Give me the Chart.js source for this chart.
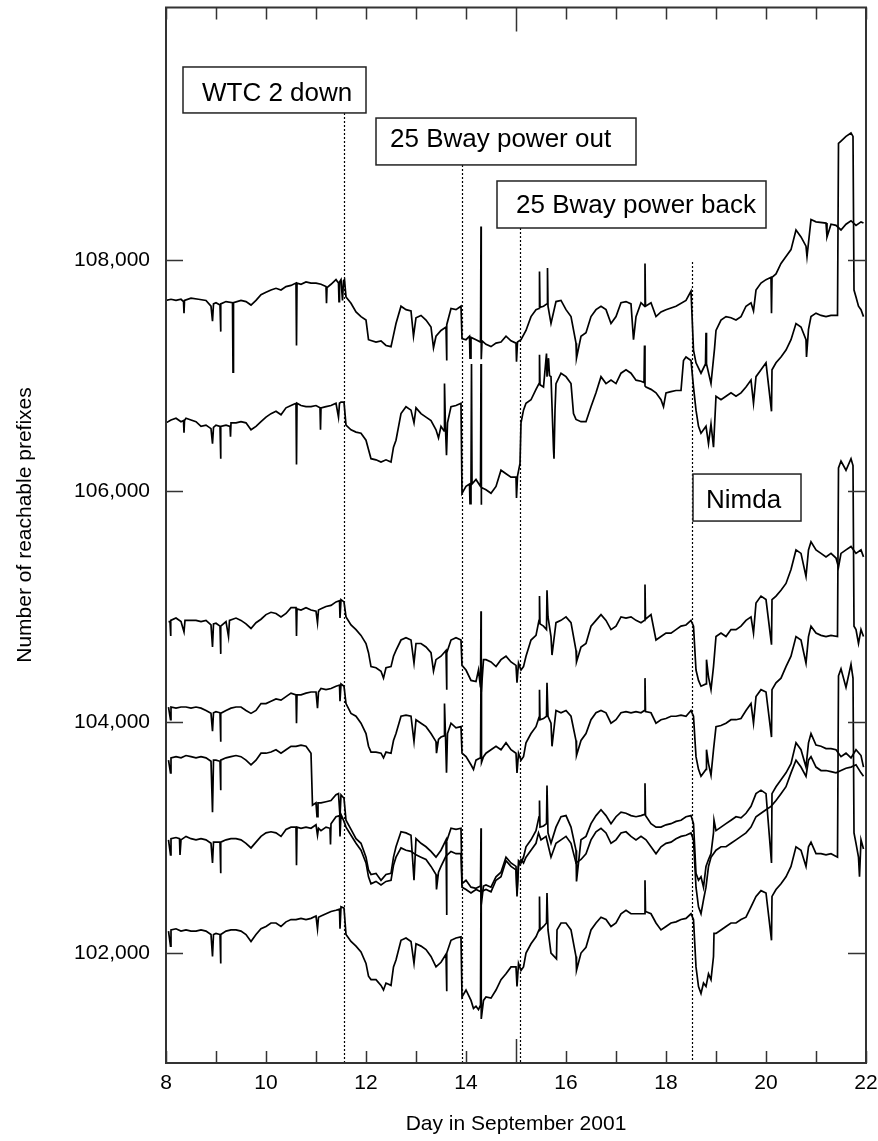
<!DOCTYPE html>
<html>
<head>
<meta charset="utf-8">
<script src="https://cdn.jsdelivr.net/npm/chart.js@4.4.1/dist/chart.umd.min.js"></script>
<style>
  html, body { margin: 0; padding: 0; background: #fff; }
  #wrap { width: 878px; height: 1141px; }
</style>
</head>
<body>
<div id="wrap"><canvas id="prefixChart" width="878" height="1141"></canvas></div>
<script>
// ── data: [day in Sept 2001, reachable prefixes] ──
const peer1 = [[8.00,107650],[8.10,107660],[8.20,107650],[8.30,107660],[8.35,107640],[8.36,107540],[8.37,107650],[8.50,107670],[8.65,107660],[8.80,107650],[8.90,107600],[8.93,107470],[8.95,107620],[9.00,107630],[9.08,107610],[9.09,107380],[9.10,107620],[9.20,107640],[9.33,107630],[9.34,107030],[9.35,107630],[9.50,107650],[9.60,107640],[9.70,107610],[9.80,107650],[9.90,107700],[10.00,107720],[10.10,107740],[10.20,107755],[10.30,107740],[10.40,107770],[10.50,107780],[10.60,107800],[10.61,107260],[10.62,107800],[10.70,107790],[10.80,107810],[10.90,107800],[11.00,107800],[11.10,107790],[11.20,107770],[11.21,107625],[11.22,107760],[11.30,107790],[11.40,107830],[11.45,107800],[11.46,107640],[11.47,107810],[11.50,107830],[11.53,107650],[11.55,107820],[11.57,107830],[11.60,107680],[11.70,107625],[11.80,107550],[11.90,107510],[12.00,107480],[12.05,107310],[12.20,107290],[12.30,107300],[12.40,107260],[12.50,107250],[12.55,107350],[12.60,107450],[12.70,107600],[12.80,107570],[12.90,107560],[12.95,107340],[13.00,107500],[13.10,107520],[13.20,107480],[13.30,107420],[13.35,107240],[13.40,107340],[13.50,107390],[13.60,107420],[13.61,107130],[13.62,107440],[13.70,107580],[13.80,107570],[13.90,107600],[13.92,107320],[14.00,107310],[14.07,107340],[14.08,107150],[14.10,107330],[14.20,107310],[14.29,107290],[14.30,108290],[14.305,107140],[14.32,107300],[14.40,107270],[14.50,107250],[14.60,107280],[14.70,107290],[14.80,107340],[14.90,107300],[15.00,107280],[15.01,107120],[15.03,107290],[15.10,107310],[15.20,107390],[15.30,107510],[15.40,107570],[15.46,107580],[15.47,107900],[15.48,107590],[15.55,107600],[15.62,107620],[15.63,107930],[15.64,107600],[15.70,107450],[15.80,107640],[15.90,107650],[16.00,107570],[16.10,107510],[16.20,107280],[16.21,107150],[16.30,107340],[16.40,107370],[16.50,107510],[16.60,107570],[16.70,107600],[16.80,107570],[16.90,107450],[17.00,107510],[17.10,107630],[17.20,107640],[17.30,107620],[17.35,107310],[17.40,107510],[17.50,107630],[17.57,107600],[17.58,107970],[17.59,107600],[17.70,107630],[17.80,107510],[17.90,107550],[18.00,107570],[18.20,107600],[18.40,107650],[18.50,107730],[18.55,107220],[18.60,107110],[18.70,107020],[18.79,107100],[18.80,107370],[18.81,107100],[18.90,106930],[18.97,107230],[19.00,107390],[19.10,107480],[19.20,107510],[19.30,107500],[19.40,107480],[19.50,107510],[19.60,107600],[19.70,107630],[19.75,107560],[19.80,107740],[19.90,107800],[20.00,107830],[20.10,107850],[20.11,107540],[20.12,107850],[20.20,107880],[20.30,107970],[20.40,108030],[20.50,108090],[20.60,108260],[20.70,108200],[20.80,108120],[20.82,108030],[20.90,108350],[21.00,108330],[21.20,108320],[21.22,108200],[21.30,108310],[21.40,108300],[21.50,108260],[21.60,108310],[21.70,108340],[21.80,108300],[21.90,108330],[21.95,108320]];

const peer2 = [[8.00,106590],[8.10,106615],[8.20,106630],[8.30,106600],[8.35,106610],[8.36,106505],[8.37,106610],[8.40,106630],[8.50,106615],[8.60,106600],[8.70,106560],[8.80,106570],[8.90,106540],[8.93,106410],[8.95,106550],[9.00,106570],[9.08,106560],[9.09,106280],[9.10,106560],[9.20,106570],[9.28,106560],[9.29,106470],[9.30,106590],[9.40,106590],[9.50,106600],[9.60,106590],[9.70,106530],[9.80,106560],[9.90,106600],[10.00,106640],[10.10,106670],[10.20,106690],[10.30,106660],[10.40,106720],[10.50,106740],[10.60,106760],[10.61,106230],[10.62,106760],[10.70,106740],[10.80,106730],[10.90,106730],[11.00,106740],[11.08,106720],[11.09,106530],[11.10,106720],[11.20,106730],[11.30,106740],[11.40,106760],[11.45,106640],[11.47,106760],[11.50,106770],[11.56,106770],[11.60,106570],[11.70,106530],[11.80,106510],[11.90,106500],[12.00,106440],[12.05,106360],[12.10,106280],[12.20,106270],[12.30,106250],[12.40,106270],[12.50,106250],[12.55,106380],[12.60,106440],[12.70,106670],[12.80,106730],[12.90,106700],[12.96,106590],[13.00,106720],[13.10,106670],[13.20,106640],[13.30,106610],[13.40,106530],[13.45,106460],[13.50,106560],[13.56,106520],[13.57,106930],[13.59,106540],[13.61,106310],[13.63,106590],[13.70,106730],[13.80,106740],[13.90,106760],[13.92,105980],[14.00,106040],[14.07,106060],[14.08,105890],[14.10,106050],[14.11,107100],[14.12,106060],[14.20,106100],[14.29,106040],[14.30,107100],[14.305,105880],[14.31,106030],[14.40,106010],[14.50,105980],[14.60,106040],[14.70,106180],[14.80,106150],[14.90,106120],[15.00,106120],[15.01,105940],[15.03,106130],[15.08,106240],[15.10,106590],[15.15,106700],[15.20,106760],[15.30,106790],[15.40,106880],[15.46,106930],[15.47,107180],[15.48,106920],[15.55,106900],[15.61,107190],[15.62,106990],[15.65,107150],[15.67,107000],[15.70,106990],[15.75,106360],[15.76,106280],[15.78,106700],[15.80,106930],[15.90,107020],[16.00,106990],[16.10,106930],[16.15,106670],[16.20,106620],[16.30,106600],[16.40,106600],[16.50,106730],[16.60,106850],[16.70,106990],[16.80,106930],[16.90,106960],[17.00,106930],[17.10,107020],[17.20,107050],[17.30,107020],[17.40,106960],[17.50,106950],[17.56,106940],[17.57,107260],[17.58,106910],[17.60,106900],[17.70,106880],[17.80,106850],[17.90,106790],[17.95,106730],[18.00,106850],[18.10,106860],[18.20,106870],[18.30,106870],[18.35,107130],[18.40,107160],[18.50,107130],[18.55,106900],[18.60,106700],[18.65,106560],[18.70,106500],[18.80,106560],[18.85,106410],[18.90,106580],[18.95,106380],[19.00,106820],[19.10,106790],[19.20,106820],[19.30,106850],[19.40,106820],[19.50,106850],[19.60,106900],[19.70,106960],[19.75,106760],[19.80,106990],[19.90,107050],[20.00,107110],[20.11,106690],[20.12,107050],[20.20,107110],[20.30,107160],[20.40,107220],[20.50,107310],[20.60,107450],[20.70,107420],[20.80,107310],[20.81,107160],[20.85,107400],[20.90,107510],[21.00,107540],[21.10,107520],[21.20,107510],[21.30,107520],[21.43,107520],[21.45,109010],[21.50,109030],[21.60,109070],[21.70,109100],[21.74,109070],[21.76,107740],[21.80,107680],[21.85,107600],[21.90,107570],[21.95,107510]];

const peer3 = [[8.05,104870],[8.08,104870],[8.09,104745],[8.10,104880],[8.20,104900],[8.30,104870],[8.36,104780],[8.38,104880],[8.50,104880],[8.60,104880],[8.70,104870],[8.80,104880],[8.90,104840],[8.93,104650],[8.95,104850],[9.00,104855],[9.08,104830],[9.09,104590],[9.10,104830],[9.20,104870],[9.25,104740],[9.27,104880],[9.40,104900],[9.50,104880],[9.60,104850],[9.70,104810],[9.80,104860],[9.90,104890],[10.00,104930],[10.10,104950],[10.20,104940],[10.30,104910],[10.40,104940],[10.50,104990],[10.60,104990],[10.61,104745],[10.62,104980],[10.70,104970],[10.80,104990],[10.90,104970],[11.00,104960],[11.03,104860],[11.05,104970],[11.10,104980],[11.20,105000],[11.30,105010],[11.40,105040],[11.47,105050],[11.48,104900],[11.50,105060],[11.56,105040],[11.60,104910],[11.70,104840],[11.80,104800],[11.90,104750],[12.00,104680],[12.05,104600],[12.10,104480],[12.20,104470],[12.30,104440],[12.35,104380],[12.40,104470],[12.50,104480],[12.55,104570],[12.60,104620],[12.70,104710],[12.80,104730],[12.90,104710],[12.96,104510],[13.00,104680],[13.10,104680],[13.20,104650],[13.30,104600],[13.35,104440],[13.40,104540],[13.50,104570],[13.60,104620],[13.61,104280],[13.62,104600],[13.70,104710],[13.80,104730],[13.90,104710],[13.92,104490],[14.00,104450],[14.10,104360],[14.20,104350],[14.25,104450],[14.29,104300],[14.30,104960],[14.305,104260],[14.35,104540],[14.40,104540],[14.50,104520],[14.60,104480],[14.70,104540],[14.80,104570],[14.90,104520],[15.00,104490],[15.02,104340],[15.05,104510],[15.10,104450],[15.15,104480],[15.20,104570],[15.30,104710],[15.40,104750],[15.46,104880],[15.47,105090],[15.48,104850],[15.55,104830],[15.61,104800],[15.62,105140],[15.64,104910],[15.70,104740],[15.72,104580],[15.80,104860],[15.90,104880],[16.00,104910],[16.10,104860],[16.20,104620],[16.21,104520],[16.30,104650],[16.40,104680],[16.50,104830],[16.60,104880],[16.70,104930],[16.80,104880],[16.90,104800],[17.00,104830],[17.10,104910],[17.20,104900],[17.30,104910],[17.40,104880],[17.50,104860],[17.57,104880],[17.58,105190],[17.59,104890],[17.70,104930],[17.80,104710],[17.90,104740],[18.00,104770],[18.10,104770],[18.20,104800],[18.30,104830],[18.40,104840],[18.50,104880],[18.55,104830],[18.60,104450],[18.65,104360],[18.70,104310],[18.80,104330],[18.81,104540],[18.85,104390],[18.90,104280],[18.95,104480],[19.00,104740],[19.10,104770],[19.20,104740],[19.30,104800],[19.40,104800],[19.50,104830],[19.60,104880],[19.70,104910],[19.75,104770],[19.80,105030],[19.90,105090],[20.00,105060],[20.11,104670],[20.12,105060],[20.20,105090],[20.30,105140],[20.40,105200],[20.50,105320],[20.60,105490],[20.70,105460],[20.80,105260],[20.85,105490],[20.90,105560],[21.00,105490],[21.10,105460],[21.20,105430],[21.30,105460],[21.40,105420],[21.45,105340],[21.50,105460],[21.60,105490],[21.70,105520],[21.80,105460],[21.90,105490],[21.95,105430]];

const peer4 = [[8.05,104130],[8.09,104020],[8.10,104130],[8.20,104120],[8.30,104130],[8.40,104130],[8.50,104120],[8.60,104130],[8.70,104120],[8.80,104100],[8.90,104075],[8.93,103920],[8.95,104080],[9.00,104090],[9.08,104080],[9.09,103830],[9.10,104075],[9.20,104100],[9.30,104120],[9.40,104130],[9.50,104130],[9.60,104100],[9.70,104075],[9.80,104100],[9.90,104160],[10.00,104160],[10.10,104180],[10.20,104200],[10.30,104190],[10.40,104220],[10.50,104250],[10.60,104235],[10.61,103990],[10.62,104235],[10.70,104235],[10.80,104250],[10.90,104260],[11.00,104260],[11.03,104120],[11.05,104260],[11.10,104290],[11.20,104280],[11.30,104290],[11.40,104310],[11.47,104320],[11.48,104180],[11.50,104330],[11.56,104310],[11.60,104160],[11.70,104075],[11.80,104050],[11.90,103990],[12.00,103900],[12.05,103790],[12.10,103740],[12.20,103740],[12.30,103730],[12.35,103690],[12.40,103740],[12.50,103730],[12.55,103840],[12.60,103900],[12.70,104050],[12.80,104060],[12.90,104050],[12.96,103830],[13.00,104020],[13.10,103990],[13.20,103960],[13.30,103900],[13.40,103830],[13.41,103730],[13.45,103850],[13.50,103870],[13.56,103880],[13.57,104160],[13.59,103880],[13.61,103560],[13.63,103900],[13.70,103990],[13.80,103950],[13.90,103960],[13.92,103730],[14.00,103700],[14.10,103630],[14.15,103590],[14.20,103670],[14.29,103690],[14.30,104420],[14.31,103650],[14.35,103700],[14.40,103730],[14.50,103760],[14.60,103790],[14.70,103760],[14.80,103820],[14.90,103760],[15.00,103730],[15.02,103560],[15.05,103730],[15.10,103670],[15.15,103700],[15.20,103820],[15.30,103900],[15.40,103960],[15.46,104040],[15.47,104280],[15.48,104020],[15.55,104030],[15.61,104050],[15.62,104340],[15.64,104050],[15.70,103990],[15.72,103790],[15.80,104100],[15.90,104080],[16.00,104100],[16.10,104050],[16.20,103840],[16.21,103710],[16.30,103840],[16.40,103900],[16.50,104020],[16.60,104080],[16.70,104100],[16.80,104080],[16.90,103990],[17.00,104020],[17.10,104080],[17.20,104090],[17.30,104080],[17.40,104090],[17.50,104080],[17.57,104100],[17.58,104380],[17.59,104090],[17.70,104080],[17.80,103990],[17.90,104020],[18.00,104030],[18.10,104050],[18.20,104050],[18.30,104060],[18.40,104050],[18.50,104100],[18.55,104050],[18.60,103700],[18.65,103590],[18.70,103530],[18.80,103590],[18.81,103760],[18.85,103640],[18.90,103540],[18.95,103760],[19.00,103960],[19.10,103970],[19.20,103990],[19.30,104020],[19.40,104020],[19.50,104030],[19.60,104100],[19.70,104160],[19.75,103990],[19.80,104220],[19.90,104280],[20.00,104260],[20.11,103870],[20.12,104280],[20.20,104340],[20.30,104380],[20.40,104480],[20.50,104570],[20.60,104740],[20.70,104710],[20.80,104510],[20.85,104740],[20.90,104830],[21.00,104770],[21.10,104750],[21.20,104740],[21.30,104750],[21.43,104740],[21.45,106200],[21.50,106260],[21.60,106180],[21.70,106280],[21.74,106220],[21.76,104830],[21.80,104800],[21.85,104680],[21.90,104800],[21.95,104740]];

const peer5 = [[8.05,103670],[8.09,103560],[8.10,103690],[8.20,103700],[8.30,103690],[8.40,103710],[8.50,103700],[8.60,103690],[8.70,103700],[8.80,103690],[8.90,103660],[8.93,103220],[8.95,103670],[9.00,103670],[9.08,103660],[9.09,103410],[9.10,103670],[9.20,103690],[9.30,103700],[9.40,103710],[9.50,103700],[9.60,103670],[9.70,103630],[9.80,103670],[9.90,103730],[10.00,103730],[10.10,103740],[10.20,103760],[10.30,103730],[10.40,103760],[10.50,103790],[10.60,103790],[10.70,103800],[10.80,103790],[10.85,103760],[10.90,103730],[10.93,103280],[11.00,103300],[11.02,103180],[11.04,103300],[11.10,103300],[11.20,103310],[11.30,103320],[11.40,103370],[11.45,103380],[11.48,103180],[11.50,103370],[11.56,103340],[11.60,103150],[11.70,103070],[11.80,102990],[11.90,102950],[12.00,102830],[12.05,102720],[12.10,102680],[12.20,102690],[12.30,102630],[12.40,102680],[12.50,102690],[12.55,102830],[12.60,102920],[12.70,103050],[12.80,103040],[12.90,103020],[12.96,102630],[13.00,102990],[13.10,102950],[13.20,102920],[13.30,102880],[13.40,102830],[13.50,102890],[13.60,102980],[13.61,102330],[13.62,102970],[13.70,103080],[13.80,103070],[13.90,103080],[13.92,102600],[14.00,102630],[14.10,102570],[14.20,102560],[14.29,102580],[14.30,103080],[14.305,102420],[14.35,102580],[14.40,102590],[14.50,102570],[14.60,102660],[14.70,102700],[14.80,102830],[14.90,102780],[15.00,102750],[15.02,102520],[15.05,102800],[15.10,102780],[15.15,102830],[15.20,102920],[15.30,102980],[15.40,103060],[15.46,103180],[15.47,103320],[15.48,103090],[15.55,103100],[15.61,103120],[15.62,103450],[15.64,103040],[15.70,102950],[15.80,103090],[15.90,103180],[16.00,103190],[16.10,103090],[16.20,102890],[16.21,102620],[16.30,102980],[16.40,103010],[16.50,103120],[16.60,103190],[16.70,103240],[16.80,103190],[16.90,103120],[17.00,103180],[17.10,103220],[17.20,103210],[17.30,103190],[17.40,103180],[17.50,103190],[17.57,103200],[17.58,103470],[17.59,103190],[17.70,103120],[17.80,103090],[17.90,103090],[18.00,103110],[18.10,103120],[18.20,103140],[18.30,103150],[18.40,103180],[18.50,103190],[18.55,103120],[18.60,102690],[18.65,102630],[18.70,102660],[18.75,102570],[18.80,102750],[18.85,102810],[18.90,102860],[18.95,103040],[18.96,103150],[19.00,103060],[19.10,103090],[19.20,103120],[19.30,103150],[19.40,103180],[19.50,103170],[19.60,103210],[19.70,103270],[19.80,103380],[19.90,103410],[20.00,103380],[20.11,102780],[20.12,103380],[20.20,103440],[20.30,103500],[20.40,103560],[20.50,103640],[20.60,103820],[20.70,103760],[20.80,103610],[20.85,103820],[20.90,103900],[21.00,103800],[21.10,103790],[21.20,103770],[21.30,103770],[21.40,103760],[21.50,103700],[21.60,103730],[21.70,103690],[21.80,103760],[21.90,103710],[21.95,103610]];

const peer6 = [[8.05,102980],[8.09,102850],[8.10,102990],[8.20,103000],[8.27,102990],[8.28,102850],[8.30,102980],[8.40,103010],[8.50,102990],[8.60,102980],[8.70,102990],[8.80,102980],[8.90,102950],[8.93,102780],[8.95,102960],[9.00,102960],[9.08,102960],[9.09,102690],[9.10,102960],[9.20,102980],[9.30,102990],[9.40,102990],[9.50,102980],[9.60,102950],[9.70,102910],[9.80,102960],[9.90,103010],[10.00,103040],[10.10,103050],[10.20,103040],[10.30,103010],[10.40,103070],[10.50,103090],[10.60,103090],[10.61,102760],[10.62,103090],[10.70,103080],[10.80,103090],[10.90,103080],[11.00,103110],[11.03,103020],[11.05,103080],[11.10,103060],[11.20,103090],[11.28,103080],[11.29,102940],[11.30,103120],[11.40,103180],[11.47,103190],[11.48,103010],[11.50,103200],[11.56,103140],[11.60,103090],[11.70,103020],[11.80,102950],[11.90,102890],[12.00,102780],[12.05,102660],[12.10,102600],[12.20,102620],[12.30,102590],[12.40,102620],[12.50,102630],[12.55,102760],[12.60,102830],[12.70,102910],[12.80,102890],[12.90,102880],[13.00,102850],[13.10,102830],[13.20,102810],[13.30,102750],[13.40,102680],[13.41,102550],[13.45,102700],[13.50,102750],[13.60,102840],[13.70,102880],[13.80,102860],[13.90,102860],[13.92,102570],[14.00,102550],[14.10,102520],[14.20,102550],[14.30,102530],[14.40,102550],[14.50,102530],[14.60,102630],[14.70,102660],[14.80,102800],[14.90,102750],[15.00,102720],[15.02,102490],[15.05,102750],[15.10,102810],[15.15,102780],[15.20,102830],[15.30,102890],[15.40,102950],[15.45,103040],[15.50,102980],[15.60,103010],[15.65,102920],[15.70,102830],[15.80,102950],[15.90,102980],[16.00,103010],[16.10,102950],[16.20,102780],[16.30,102810],[16.40,102860],[16.50,102980],[16.60,103050],[16.70,103080],[16.80,103040],[16.90,102950],[17.00,102980],[17.10,103040],[17.20,103050],[17.30,103010],[17.40,102980],[17.50,103010],[17.60,102980],[17.70,102920],[17.80,102860],[17.90,102920],[18.00,102950],[18.10,102960],[18.20,102990],[18.30,103010],[18.40,103020],[18.50,103040],[18.55,102980],[18.60,102570],[18.65,102400],[18.70,102340],[18.75,102460],[18.80,102570],[18.85,102750],[18.90,102830],[18.95,102860],[19.00,102890],[19.10,102920],[19.20,102920],[19.30,102950],[19.40,102980],[19.50,103010],[19.60,103040],[19.70,103090],[19.80,103180],[19.90,103210],[20.00,103240],[20.10,103270],[20.20,103320],[20.30,103380],[20.40,103440],[20.50,103560],[20.60,103670],[20.70,103610],[20.80,103530],[20.85,103670],[20.90,103700],[21.00,103610],[21.10,103580],[21.20,103580],[21.30,103570],[21.40,103560],[21.50,103580],[21.60,103600],[21.70,103610],[21.80,103630],[21.90,103560],[21.95,103530]];

const peer7 = [[8.05,102190],[8.09,102060],[8.10,102200],[8.20,102210],[8.30,102190],[8.40,102200],[8.50,102190],[8.60,102190],[8.70,102200],[8.80,102190],[8.90,102160],[8.93,101970],[8.95,102160],[9.00,102170],[9.08,102160],[9.09,101910],[9.10,102160],[9.20,102190],[9.30,102200],[9.40,102200],[9.50,102190],[9.60,102160],[9.70,102100],[9.80,102160],[9.90,102210],[10.00,102230],[10.10,102260],[10.20,102260],[10.30,102230],[10.40,102270],[10.50,102290],[10.60,102290],[10.70,102300],[10.80,102290],[10.90,102300],[11.00,102320],[11.03,102210],[11.05,102310],[11.10,102320],[11.20,102340],[11.30,102360],[11.40,102370],[11.47,102380],[11.48,102210],[11.50,102400],[11.56,102390],[11.60,102160],[11.70,102100],[11.80,102060],[11.90,102010],[12.00,101910],[12.05,101800],[12.10,101770],[12.20,101770],[12.30,101720],[12.35,101680],[12.40,101740],[12.50,101720],[12.55,101880],[12.60,101940],[12.70,102110],[12.80,102130],[12.90,102100],[12.96,101910],[13.00,102080],[13.10,102060],[13.20,102030],[13.30,101970],[13.40,101880],[13.50,101920],[13.60,101990],[13.61,101670],[13.62,102000],[13.70,102110],[13.80,102130],[13.90,102140],[13.92,101620],[14.00,101680],[14.10,101590],[14.15,101520],[14.20,101540],[14.25,101510],[14.29,101550],[14.30,102600],[14.305,101430],[14.35,101590],[14.40,101620],[14.50,101610],[14.60,101680],[14.70,101770],[14.80,101820],[14.90,101880],[15.00,101880],[15.02,101710],[15.05,101910],[15.10,101850],[15.15,101880],[15.20,102000],[15.30,102080],[15.40,102140],[15.46,102200],[15.47,102490],[15.48,102200],[15.55,102230],[15.61,102260],[15.62,102520],[15.64,102200],[15.70,102000],[15.81,101950],[15.82,102200],[15.90,102260],[16.00,102260],[16.10,102200],[16.20,101970],[16.21,101850],[16.30,102000],[16.40,102050],[16.50,102200],[16.60,102260],[16.70,102310],[16.80,102290],[16.90,102230],[17.00,102260],[17.10,102340],[17.20,102370],[17.30,102340],[17.40,102340],[17.50,102340],[17.57,102340],[17.58,102630],[17.59,102360],[17.70,102340],[17.80,102260],[17.90,102200],[18.00,102230],[18.10,102260],[18.20,102270],[18.30,102290],[18.40,102300],[18.50,102340],[18.55,102290],[18.60,101880],[18.65,101710],[18.70,101650],[18.75,101740],[18.80,101710],[18.85,101820],[18.90,101770],[18.95,101970],[18.96,102170],[19.00,102170],[19.10,102200],[19.20,102230],[19.30,102260],[19.40,102260],[19.50,102290],[19.60,102310],[19.70,102400],[19.80,102490],[19.90,102540],[20.00,102520],[20.11,102110],[20.12,102490],[20.20,102550],[20.30,102600],[20.40,102660],[20.50,102750],[20.60,102920],[20.70,102890],[20.80,102750],[20.85,102920],[20.90,102960],[21.00,102860],[21.10,102860],[21.20,102850],[21.30,102860],[21.43,102830],[21.45,104400],[21.50,104460],[21.60,104300],[21.70,104500],[21.74,104380],[21.76,103040],[21.80,102950],[21.85,102830],[21.87,102660],[21.90,102980],[21.95,102900]];

// ── axes ──
const xTicks = [8, 9, 10, 11, 12, 13, 14, 15, 16, 17, 18, 19, 20, 21, 22];
const yTicks = [102000, 104000, 106000, 108000];
const xRange = [8, 22];
const yRange = [101048, 110186];
const xTitle = 'Day in September 2001';
const yTitle = 'Number of reachable prefixes';

// ── events marked with dotted lines ──
const eventLabels = ['WTC 2 down', '25 Bway power out', '25 Bway power back', 'Nimda'];
const eventDays = [11.56, 13.92, 15.08, 18.52];

// label box placement (data coords) and where each dotted line starts
const eventBoxes = [
    { x0: 8.34, x1: 12.0, yTop: 109671, yBot: 109273, lineTop: 109273, dx: 19, dy: 34 },
    { x0: 12.2, x1: 17.4, yTop: 109229, yBot: 108823, lineTop: 108823, dx: 14, dy: 29 },
    { x0: 14.62, x1: 20.0, yTop: 108684, yBot: 108277, lineTop: 108277, dx: 19, dy: 32 },
    { x0: 18.54, x1: 20.7, yTop: 106147, yBot: 105740, lineTop: 107983, dx: 13, dy: 34 }
];

const fontFamily = '"Liberation Sans", Arial, Helvetica, sans-serif';
Chart.defaults.font.family = fontFamily;
Chart.defaults.color = '#000';

const frameColor = '#333';

const framePlugin = {
    id: 'frame',
    afterDatasetsDraw(chart) {
        const { ctx, chartArea: a, scales: { x, y } } = chart;
        ctx.save();

        // dotted event lines
        ctx.strokeStyle = '#000';
        ctx.lineWidth = 1.2;
        ctx.setLineDash([2, 2]);
        eventDays.forEach((d, i) => {
            const px = Math.round(x.getPixelForValue(d)) + 0.5;
            ctx.beginPath();
            ctx.moveTo(px, y.getPixelForValue(eventBoxes[i].lineTop));
            ctx.lineTo(px, a.bottom);
            ctx.stroke();
        });
        ctx.setLineDash([]);

        // label boxes
        ctx.font = '26px ' + fontFamily;
        ctx.textBaseline = 'alphabetic';
        ctx.textAlign = 'left';
        eventBoxes.forEach((b, i) => {
            const l = x.getPixelForValue(b.x0), r = x.getPixelForValue(b.x1);
            const t = y.getPixelForValue(b.yTop), bt = y.getPixelForValue(b.yBot);
            ctx.fillStyle = '#fff';
            ctx.fillRect(l, t, r - l, bt - t);
            ctx.strokeStyle = '#222';
            ctx.lineWidth = 1.5;
            ctx.strokeRect(l, t, r - l, bt - t);
            ctx.fillStyle = '#000';
            ctx.fillText(eventLabels[i], l + b.dx, t + b.dy);
        });

        // frame
        ctx.strokeStyle = frameColor;
        ctx.lineWidth = 2;
        ctx.strokeRect(a.left, a.top, a.right - a.left, a.bottom - a.top);

        // inward ticks on all four sides
        ctx.lineWidth = 1.5;
        ctx.beginPath();
        xTicks.forEach(d => {
            const px = Math.round(x.getPixelForValue(d)) + 0.5;
            const len = d === 15 ? 24 : 12;
            ctx.moveTo(px, a.bottom); ctx.lineTo(px, a.bottom - len);
            ctx.moveTo(px, a.top); ctx.lineTo(px, a.top + len);
        });
        yTicks.forEach(v => {
            const py = Math.round(y.getPixelForValue(v)) + 0.5;
            ctx.moveTo(a.left, py); ctx.lineTo(a.left + 17, py);
            ctx.moveTo(a.right, py); ctx.lineTo(a.right - 18, py);
        });
        ctx.stroke();

        // y-axis title, sitting a little above the axis middle as in the figure
        ctx.translate(25, 525);
        ctx.rotate(-Math.PI / 2);
        ctx.font = '21px ' + fontFamily;
        ctx.textAlign = 'center';
        ctx.textBaseline = 'middle';
        ctx.fillStyle = '#000';
        ctx.fillText(yTitle, 0, 0);

        ctx.restore();
    }
};

const peers = [peer1, peer2, peer3, peer4, peer5, peer6, peer7];

new Chart(document.getElementById('prefixChart'), {
    type: 'line',
    data: {
        datasets: peers.map((d, i) => ({
            label: 'Peer ' + (i + 1),
            data: d,
            borderColor: '#000',
            borderWidth: 1.7,
            pointRadius: 0,
            tension: 0,
            fill: false
        }))
    },
    options: {
        responsive: false,
        animation: false,
        devicePixelRatio: 1,
        layout: { padding: { left: 0, right: 12, top: 7.5, bottom: 0 } },
        plugins: {
            legend: { display: false },
            tooltip: { enabled: false }
        },
        scales: {
            x: {
                type: 'linear',
                min: xRange[0],
                max: xRange[1],
                grid: { display: false, drawTicks: false },
                border: { display: false },
                afterBuildTicks: s => { s.ticks = xTicks.map(v => ({ value: v })); },
                afterFit: s => { s.height = 78; s.paddingLeft = 0; s.paddingRight = 0; },
                ticks: {
                    autoSkip: false,
                    maxRotation: 0,
                    padding: 8,
                    font: { size: 21 },
                    callback: v => (v % 2 === 0 ? String(v) : '')
                },
                title: {
                    display: true,
                    text: xTitle,
                    font: { size: 21 },
                    padding: { top: 0, bottom: 4 }
                }
            },
            y: {
                type: 'linear',
                min: yRange[0],
                max: yRange[1],
                grid: { display: false, drawTicks: false },
                border: { display: false },
                afterBuildTicks: s => { s.ticks = yTicks.map(v => ({ value: v })); },
                afterFit: s => { s.width = 166; s.paddingTop = 0; s.paddingBottom = 0; },
                ticks: {
                    padding: 16,
                    font: { size: 21 },
                    callback: v => v.toLocaleString('en-US')
                }
            }
        }
    },
    plugins: [framePlugin]
});
</script>
</body>
</html>
